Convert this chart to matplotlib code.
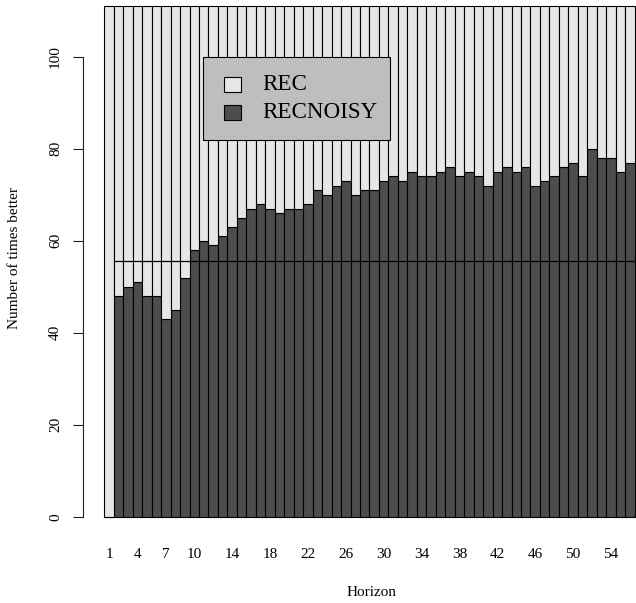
import matplotlib
matplotlib.use("Agg")
import matplotlib.pyplot as plt
from matplotlib.patches import Rectangle
import numpy as np

plt.rcParams['font.family'] = ['Liberation Serif', 'DejaVu Serif']

# Number of series where RECNOISY beats REC, per horizon (out of 111)
horizons = list(range(1, 57))
recnoisy = [0, 48, 50, 51, 48, 48, 43, 45, 52, 58, 60, 59, 61, 63, 65, 67, 68, 67,
            66, 67, 67, 68, 71, 70, 72, 73, 70, 71, 71, 73, 74, 73, 75, 74, 74, 75,
            76, 74, 75, 74, 72, 75, 76, 75, 76, 72, 73, 74, 76, 77, 74, 80, 78, 78,
            75, 77]
total = 111
rec = [total - v for v in recnoisy]
shown_labels = [1, 4, 7, 10, 14, 18, 22, 26, 30, 34, 38, 42, 46, 50, 54]
yticks = [0, 20, 40, 60, 80, 100]
series_names = ["REC", "RECNOISY"]
light, dark = "#e6e6e6", "#4d4d4d"

W, H = 636, 603
fig = plt.figure(figsize=(W / 100, H / 100), dpi=100)

# plot region in pixels
left_px, right_px = 83.1, 636.0
bottom_px, top_px = 535.1, 0.0
ax = fig.add_axes([left_px / W, 1 - bottom_px / H,
                   (right_px - left_px) / W, (bottom_px - top_px) / H])

px_per_bar = 9.47
x0_px = 104.3
ax.set_xlim((left_px - x0_px) / px_per_bar, (right_px - x0_px) / px_per_bar)
px_per_unit = 4.6
y0_px = 516.7
ax.set_ylim((y0_px - bottom_px) / px_per_unit, (y0_px - top_px) / px_per_unit)

x = np.arange(len(horizons))
ax.bar(x, recnoisy, width=1, align='edge', color=dark, edgecolor='black',
       linewidth=0.8, clip_on=False)
ax.bar(x, rec, bottom=recnoisy, width=1, align='edge', color=light,
       edgecolor='black', linewidth=0.8, clip_on=False)

ax.plot([1, len(horizons) + 3], [total / 2, total / 2], color='black', lw=0.9)

for s in ['top', 'right', 'bottom']:
    ax.spines[s].set_visible(False)
ax.spines['left'].set_bounds(0, 100)
ax.spines['left'].set_linewidth(0.8)
ax.spines['left'].set_color('#222222')

ax.set_yticks(yticks)
ax.set_yticklabels([str(t) for t in yticks], rotation=90, va='center',
                   fontsize=11)
ax.tick_params(axis='y', length=7.2, width=0.8, color='#222222', pad=8)

ax.set_xticks([h - 0.5 for h in shown_labels])
ax.set_xticklabels([str(h) for h in shown_labels], fontsize=11)
ax.tick_params(axis='x', length=0, pad=9)

fig.text(371.5 / W, 1 - 593 / H, "Horizon", ha='center', va='center', fontsize=11)
fig.text(15 / W, 1 - 258 / H, "Number of times better", ha='center',
         va='center', rotation=90, fontsize=11)

# legend box
def fx(p):
    return p / W

def fy(p):
    return 1 - p / H

box = Rectangle((fx(203.3), fy(140)), fx(390) - fx(203.3), fy(56.7) - fy(140),
                transform=fig.transFigure, facecolor='#bebebe', edgecolor='black',
                linewidth=0.8, zorder=10, clip_on=False)
ax.add_artist(box)
for (top_y, col, name) in [(77.3, light, series_names[0]), (105.3, dark, series_names[1])]:
    sq = Rectangle((fx(224.3), fy(top_y + 14.4)), fx(241) - fx(224.3), 14.4 / H,
                   transform=fig.transFigure, facecolor=col, edgecolor='black',
                   linewidth=0.8, zorder=11, clip_on=False)
    ax.add_artist(sq)
    ax.text(fx(262), fy(top_y + 7.2), name, transform=fig.transFigure,
            ha='left', va='center', fontsize=16.6, zorder=12)

fig.savefig("out.png", dpi=100)
